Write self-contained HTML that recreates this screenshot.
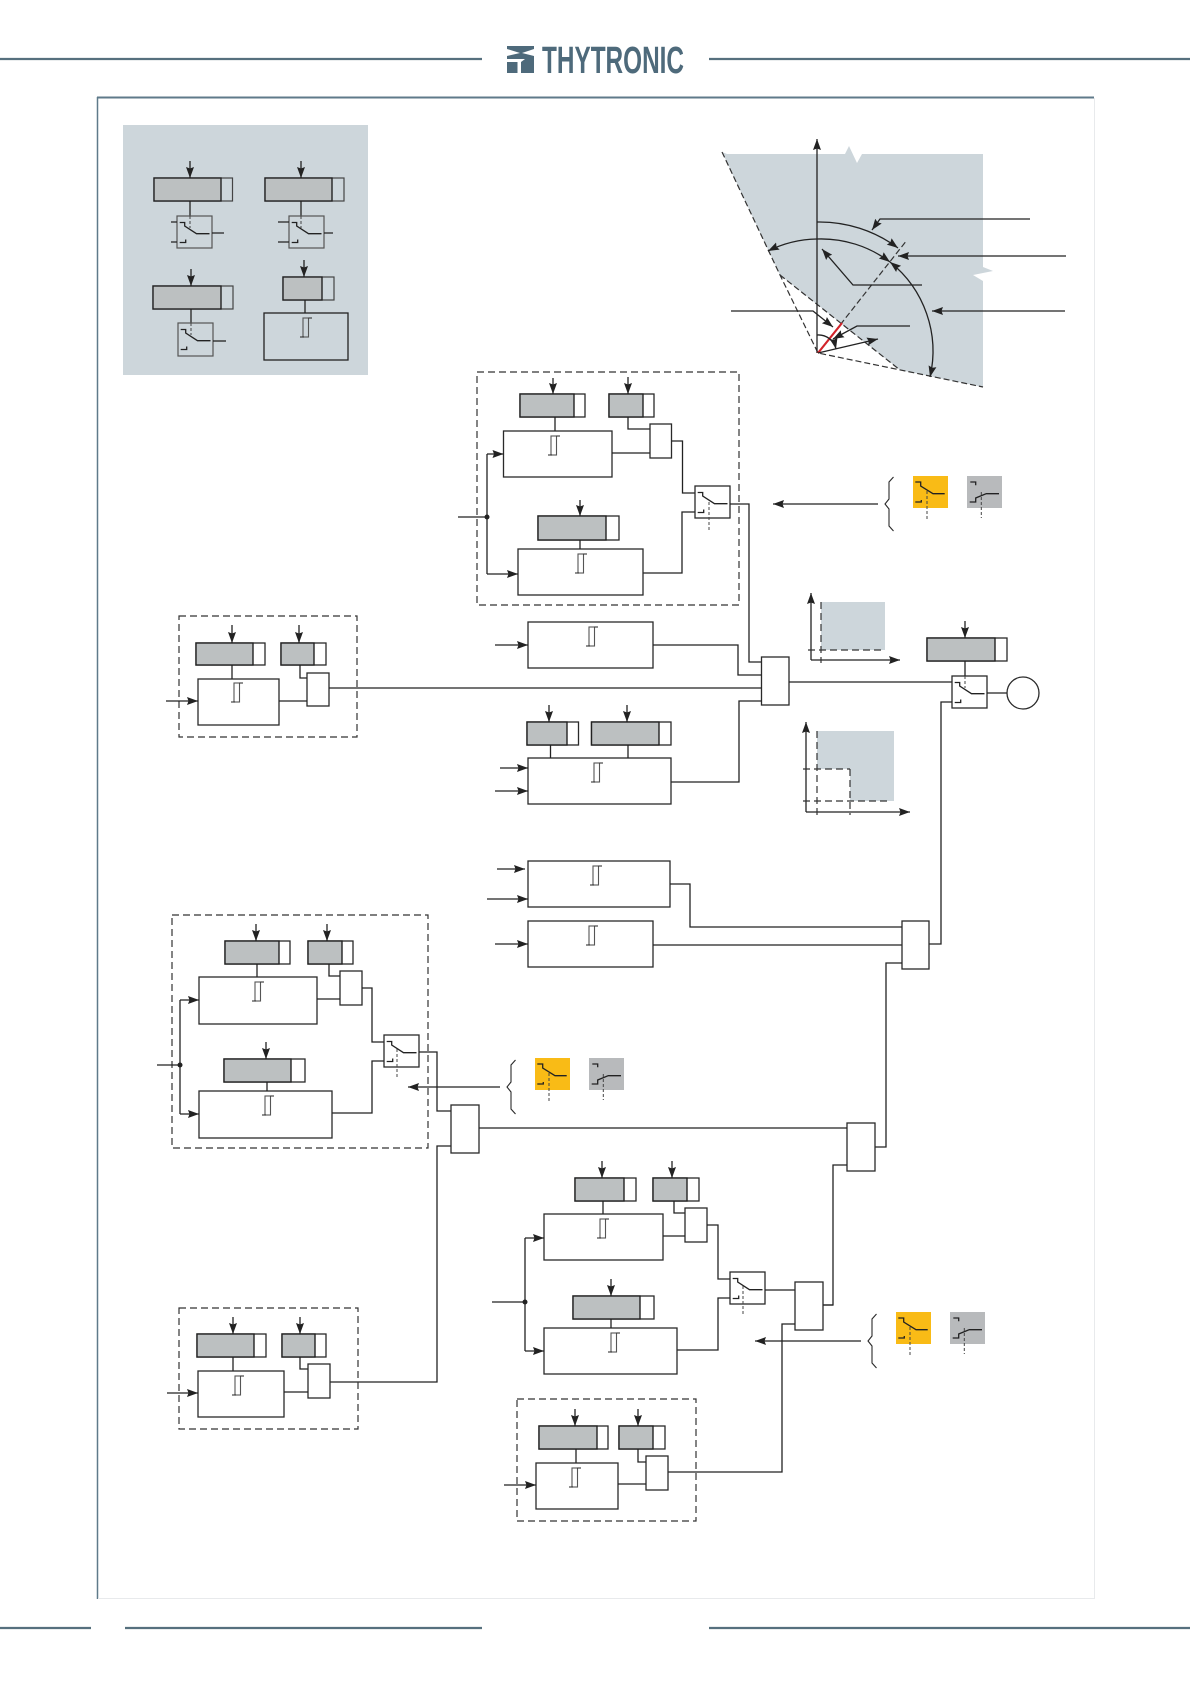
<!DOCTYPE html>
<html lang="en"><head><meta charset="utf-8"><title>Thytronic diagram</title>
<style>
html,body{margin:0;padding:0;background:#fff}
svg{display:block}
.w{fill:none;stroke:#222;stroke-width:1.3}
.b{fill:#fff;stroke:#2a2a2a;stroke-width:1.3}
.d{fill:none;stroke:#333;stroke-width:1.2;stroke-dasharray:7 4}
.ds{fill:none;stroke:#444;stroke-width:1;stroke-dasharray:3 2}
.g{fill:#bcc0c1;stroke:#222;stroke-width:1.4}
.a{fill:none;stroke:#222;stroke-width:1.3;marker-end:url(#ar)}
.p{fill:#cdd6db}
</style></head><body>
<svg xmlns="http://www.w3.org/2000/svg" width="1190" height="1684" viewBox="0 0 1190 1684">
<defs>
<marker id="ar" markerUnits="userSpaceOnUse" markerWidth="13" markerHeight="9" refX="11" refY="4" orient="auto-start-reverse"><path d="M0 0L11 4L0 8L1.500 4z" fill="#222"/></marker>
<g id="s"><path class="w" d="M2.700 6.500H7.700V10L19.500 17.700H32.500M2.700 26.500H8.700V23.500"/></g>
<g id="hy"><rect x="0" y="0" width="5.500" height="19" fill="none" stroke="#555" stroke-width="1.100"/><path d="M5.500 0H9M-3 19H1" fill="none" stroke="#222" stroke-width="1.100"/></g>
<g id="br"><path fill="none" stroke="#2a2a2a" stroke-width="1.100" d="M9 0L4.500 5V22L.5 27L4.500 32V49L9 54"/></g>
<g id="ya"><rect width="35" height="32" fill="#f9bb16"/><path class="w" d="M2.300 6H7.700V10L20 17.700H31.700M2.300 26H8.300V24"/><path class="ds" d="M14 15V44"/></g>
<g id="gr"><rect width="35" height="32" fill="#b8babc"/><path class="w" d="M3.300 6H8.700V9.300M2.700 26H8.700V22L19.300 17.700H32"/><path class="ds" d="M14.300 16V42"/></g>
</defs>

<!-- header -->
<path d="M0 59H482M709 59H1190" stroke="#56707e" stroke-width="2.200"/>
<path fill="#4e6a7b" d="M507 46H534V59H507zM507 62H517.500V73H507zM521 62L525 59H534V73H521z"/>
<path fill="#fff" d="M507 49L520 53L507 56zM534 49L522 53L534 56z"/>
<text x="542" y="73" font-family="'Liberation Sans',sans-serif" font-weight="700" font-size="38" fill="#4e6a7b" textLength="142" lengthAdjust="spacingAndGlyphs">THYTRONIC</text>

<!-- frame -->
<path d="M97 97.500H1094" stroke="#5f7a8a" stroke-width="2"/>
<path d="M97.500 97V1599" stroke="#5f7a8a" stroke-width="1.500"/>
<path d="M98 1598.500H1095M1094.500 98V1598" stroke="#e8eaec" stroke-width="1"/>
<path d="M0 1628H91M125 1628H482M709 1628H1190" stroke="#56707e" stroke-width="2.200"/>

<!-- legend -->
<rect class="p" x="123" y="125" width="245" height="250"/>
<rect x="154" y="178" width="78.500" height="23" fill="none" stroke="#444" stroke-width="1.200"/><rect class="g" x="154" y="178" width="67" height="23"/>
<path class="a" d="M190 161V178"/><path class="w" d="M190 201V216"/>
<rect x="177" y="216" width="35" height="32" fill="none" stroke="#555" stroke-width="1.200"/><use href="#s" x="177" y="216"/><path class="ds" d="M190 216V228"/>
<path class="w" d="M171 222H177M171 242H177M212 233H224"/>
<rect x="265" y="178" width="79" height="23" fill="none" stroke="#444" stroke-width="1.200"/><rect class="g" x="265" y="178" width="67" height="23"/>
<path class="a" d="M301 161V178"/><path class="w" d="M301 201V216"/>
<rect x="289" y="216" width="35" height="32" fill="none" stroke="#555" stroke-width="1.200"/><use href="#s" x="289" y="216"/><path class="ds" d="M301 216V228"/>
<path class="w" d="M278 222H289M278 242H289M324 233H333"/>
<rect x="153" y="286" width="80" height="23" fill="none" stroke="#444" stroke-width="1.200"/><rect class="g" x="153" y="286" width="68" height="23"/>
<path class="a" d="M191 269V286"/><path class="w" d="M191 309V323"/>
<rect x="178" y="323" width="35" height="33" fill="none" stroke="#555" stroke-width="1.200"/><use href="#s" x="178" y="323"/><path class="ds" d="M191 323V335"/>
<path class="w" d="M213 341H226"/>
<rect x="283" y="277" width="51" height="23" fill="none" stroke="#444" stroke-width="1.200"/><rect class="g" x="283" y="277" width="39" height="23"/>
<path class="a" d="M304 260V277"/><path class="w" d="M305 300V313"/>
<rect x="264" y="313" width="84" height="47" fill="none" stroke="#222" stroke-width="1.300"/><use href="#hy" x="303" y="318"/>

<!-- polar chart -->
<path class="p" d="M722 152L727 154H845L849 146L857 163L862 154H983V267L993 271L973 275L983 281V387L900 370L780 275z"/>
<path class="d" style="stroke-dasharray:6 3" d="M722 152L780 275L818 353L983 387M780 275L900 370M818 353L907 240"/>
<path class="a" d="M817 353V139"/>
<path d="M818 353L842 323" stroke="#d2232a" stroke-width="2.200"/>
<path class="a" d="M817 222A131 131 0 0 1 898 248"/>
<path class="a" d="M817 239A114 114 0 0 0 768 251"/>
<path class="a" d="M817 239A114 114 0 0 1 890 262"/>
<path class="a" style="marker-start:url(#ar)" d="M890 262A114 114 0 0 1 930 377"/>
<path class="a" d="M817 335A18 18 0 0 1 836 349"/>
<path class="a" d="M818 353L878 339"/>
<path class="a" d="M1030 219H880L872 230"/>
<path class="a" d="M1066 256H898"/>
<path class="a" d="M922 285H853L822 249"/>
<path class="a" d="M1065 311H932"/>
<path class="a" d="M731 311H813L833 327"/>
<path class="a" d="M910 326H857L833 339"/>

<!-- group 1 top -->
<rect class="d" x="477" y="372" width="262" height="233"/>
<rect class="b" x="520" y="394" width="65" height="23"/><rect class="g" x="520" y="394" width="54" height="23"/>
<path class="a" d="M553 378V394"/><path class="w" d="M555 417V431"/>
<rect class="b" x="609" y="394" width="45" height="23"/><rect class="g" x="609" y="394" width="34" height="23"/>
<path class="a" d="M628 377V394"/><path class="w" d="M628 417V429H650"/>
<rect class="b" x="503.500" y="431" width="108.500" height="46"/><use href="#hy" x="551" y="436"/>
<rect class="b" x="650" y="424" width="21.500" height="34"/>
<path class="w" d="M612 453H650M671.500 441H682.500V493H695M643 573H682V512H695"/>
<rect class="b" x="695" y="486" width="35" height="32"/><use href="#s" x="695" y="486"/><path class="ds" d="M709 502V530"/>
<rect class="b" x="518" y="549" width="125" height="46"/><use href="#hy" x="578" y="554"/>
<rect class="b" x="538" y="516" width="81" height="24"/><rect class="g" x="538" y="516" width="68" height="24"/>
<path class="a" d="M580 500V516"/><path class="w" d="M580 540V549"/>
<path class="w" d="M458 517H487M487 454V574"/><circle cx="487" cy="517" r="2.500" fill="#222"/>
<path class="a" d="M487 454H503.500"/><path class="a" d="M487 574H518"/>
<path class="w" d="M730 504H749V662H761.500"/>
<path class="a" d="M878 504H773"/><use href="#br" x="884.500" y="477"/>
<use href="#ya" x="913" y="476"/><use href="#gr" x="967" y="476"/>

<!-- or main -->
<rect class="b" x="761.500" y="657" width="27.500" height="48"/>
<rect class="b" x="528" y="622" width="125" height="46"/><use href="#hy" x="589" y="627"/>
<path class="a" d="M495 645H528"/>
<path class="w" d="M653 645H738V675H761.500M789 682H952M761.500 701H739V782H671"/>

<!-- charts -->
<rect class="p" x="821" y="602" width="64" height="48"/>
<path class="a" d="M811 660V593"/><path class="a" d="M811 660H900"/>
<path class="d" d="M821 602V663M808 650H885"/>
<path class="p" d="M817 731H894V801H850V769H817z"/>
<path class="a" d="M806 812V722"/><path class="a" d="M806 812H910"/>
<path class="d" d="M817 731V815M803 769H850M850 769V815M803 801H890"/>

<!-- final -->
<rect class="b" x="927" y="638" width="80" height="23"/><rect class="g" x="927" y="638" width="68" height="23"/>
<path class="a" d="M965 621V638"/><path class="w" d="M965 661V676"/>
<rect class="b" x="952" y="676" width="35" height="32"/><use href="#s" x="952" y="676"/><path class="ds" d="M965 676V688"/>
<path class="w" d="M987 693H1007M952 702H941V944H929"/>
<circle cx="1023" cy="693" r="16" fill="#fff" stroke="#2a2a2a" stroke-width="1.300"/>

<!-- block D -->
<rect class="b" x="528" y="758" width="143" height="46"/><use href="#hy" x="594" y="763"/>
<rect class="b" x="527" y="722" width="51.500" height="23"/><rect class="g" x="527" y="722" width="40" height="23"/>
<path class="a" d="M549 705V722"/><path class="w" d="M550.500 745V758"/>
<rect class="b" x="591.500" y="722" width="79.500" height="23"/><rect class="g" x="591.500" y="722" width="67.500" height="23"/>
<path class="a" d="M627 705V722"/><path class="w" d="M628 745V758"/>
<path class="a" d="M500 768H528"/><path class="a" d="M495 791H528"/>

<!-- block E F -->
<rect class="b" x="528" y="861" width="142" height="46"/><use href="#hy" x="593" y="866"/>
<path class="a" d="M497 869H525"/><path class="a" d="M487 899H528"/>
<path class="w" d="M670 884H690V927H902"/>
<rect class="b" x="528" y="921" width="125" height="46"/><use href="#hy" x="589" y="926"/>
<path class="a" d="M495 944H528"/><path class="w" d="M653 945H902"/>
<rect class="b" x="902" y="921" width="27" height="48"/>
<path class="w" d="M902 963H886V1147H875"/>
<rect class="b" x="847" y="1123" width="28" height="48"/>
<path class="w" d="M479 1128H847M847 1165H833V1305H823"/>

<!-- left upper -->
<rect class="d" x="179" y="616" width="178" height="121"/>
<rect class="b" x="196" y="643" width="69" height="22"/><rect class="g" x="196" y="643" width="57" height="22"/>
<path class="a" d="M232 625V643"/><path class="w" d="M232 665V679"/>
<rect class="b" x="281" y="643" width="45" height="22"/><rect class="g" x="281" y="643" width="33" height="22"/>
<path class="a" d="M299 625V643"/><path class="w" d="M300 665V678H307"/>
<rect class="b" x="198" y="679" width="81" height="46"/><use href="#hy" x="234" y="683"/>
<rect class="b" x="307" y="673" width="22" height="33"/>
<path class="w" d="M279 701H307M329 688H761.500"/><path class="a" d="M166 701H198"/>

<!-- left mid -->
<rect class="d" x="172" y="915" width="256" height="233"/>
<rect class="b" x="225" y="941" width="65" height="23"/><rect class="g" x="225" y="941" width="54" height="23"/>
<path class="a" d="M256 924V941"/><path class="w" d="M257 964V977"/>
<rect class="b" x="308" y="941" width="45" height="23"/><rect class="g" x="308" y="941" width="34" height="23"/>
<path class="a" d="M327 924V941"/><path class="w" d="M329 964V976H340"/>
<rect class="b" x="199" y="977" width="118" height="47"/><use href="#hy" x="255" y="982"/>
<rect class="b" x="340" y="971" width="22" height="34"/>
<path class="w" d="M317 999H340M362 988H372V1042H384M384 1061H372V1113H332"/>
<rect class="b" x="384" y="1035" width="35" height="32"/><use href="#s" x="384" y="1035"/><path class="ds" d="M397 1049V1078"/>
<rect class="b" x="199" y="1091" width="133" height="47"/><use href="#hy" x="265" y="1096"/>
<rect class="b" x="224" y="1059" width="81" height="23"/><rect class="g" x="224" y="1059" width="67" height="23"/>
<path class="a" d="M266 1042V1059"/><path class="w" d="M267 1082V1091"/>
<path class="w" d="M157 1065H180M180 1000V1114"/><circle cx="180" cy="1065" r="2.500" fill="#222"/>
<path class="a" d="M180 1000H199"/><path class="a" d="M180 1114H199"/>
<path class="w" d="M419 1052H437V1111H451M451 1146H437V1382H330"/>
<rect class="b" x="451" y="1105" width="28" height="48"/>
<path class="a" d="M500 1087H408"/><use href="#br" x="506.500" y="1060"/>
<use href="#ya" x="535" y="1058"/><use href="#gr" x="589" y="1058"/>

<!-- left low -->
<rect class="d" x="179" y="1308" width="179" height="121"/>
<rect class="b" x="197" y="1334" width="69" height="23"/><rect class="g" x="197" y="1334" width="57" height="23"/>
<path class="a" d="M233 1317V1334"/><path class="w" d="M233 1357V1371"/>
<rect class="b" x="282" y="1334" width="44" height="23"/><rect class="g" x="282" y="1334" width="33" height="23"/>
<path class="a" d="M300 1317V1334"/><path class="w" d="M300 1357V1369H308"/>
<rect class="b" x="198" y="1371" width="86" height="46"/><use href="#hy" x="235" y="1376"/>
<rect class="b" x="308" y="1364" width="22" height="34"/>
<path class="w" d="M284 1392H308"/><path class="a" d="M167 1393H198"/>

<!-- bottom centre -->
<rect class="b" x="575" y="1178" width="61" height="23"/><rect class="g" x="575" y="1178" width="49" height="23"/>
<path class="a" d="M602 1161V1178"/><path class="w" d="M603 1201V1214"/>
<rect class="b" x="653" y="1178" width="46" height="23"/><rect class="g" x="653" y="1178" width="34" height="23"/>
<path class="a" d="M672 1161V1178"/><path class="w" d="M674 1201V1213H685"/>
<rect class="b" x="544" y="1214" width="119" height="46"/><use href="#hy" x="600" y="1219"/>
<rect class="b" x="685" y="1208" width="22" height="34"/>
<path class="w" d="M663 1236H685M707 1225H718V1279H730M730 1298H718V1350H677"/>
<rect class="b" x="730" y="1272" width="35" height="32"/><use href="#s" x="730" y="1272"/><path class="ds" d="M743 1286V1316"/>
<rect class="b" x="544" y="1328" width="133" height="46"/><use href="#hy" x="611" y="1333"/>
<rect class="b" x="573" y="1296" width="81" height="23"/><rect class="g" x="573" y="1296" width="67" height="23"/>
<path class="a" d="M611 1279V1296"/><path class="w" d="M611 1319V1328"/>
<path class="w" d="M492 1302H525M525 1238V1351"/><circle cx="525" cy="1302" r="2.500" fill="#222"/>
<path class="a" d="M525 1238H544"/><path class="a" d="M525 1351H544"/>
<path class="w" d="M765 1290H795M823 1305H833"/>
<rect class="b" x="795" y="1282" width="28" height="48"/>
<path class="w" d="M795 1324H782V1472H668"/>
<path class="a" d="M861 1341H755"/><use href="#br" x="867.500" y="1314"/>
<use href="#ya" x="896" y="1312"/><use href="#gr" x="950" y="1312"/>

<!-- bottom dashed -->
<rect class="d" x="517" y="1399" width="179" height="122"/>
<rect class="b" x="539" y="1426" width="69" height="23"/><rect class="g" x="539" y="1426" width="58" height="23"/>
<path class="a" d="M575 1409V1426"/><path class="w" d="M576 1449V1463"/>
<rect class="b" x="619" y="1426" width="46" height="23"/><rect class="g" x="619" y="1426" width="34" height="23"/>
<path class="a" d="M638 1409V1426"/><path class="w" d="M638 1449V1462H646"/>
<rect class="b" x="536" y="1463" width="82" height="46"/><use href="#hy" x="572" y="1468"/>
<rect class="b" x="646" y="1456" width="22" height="34"/>
<path class="w" d="M618 1484H646"/><path class="a" d="M504 1485H536"/>
</svg>
</body></html>
